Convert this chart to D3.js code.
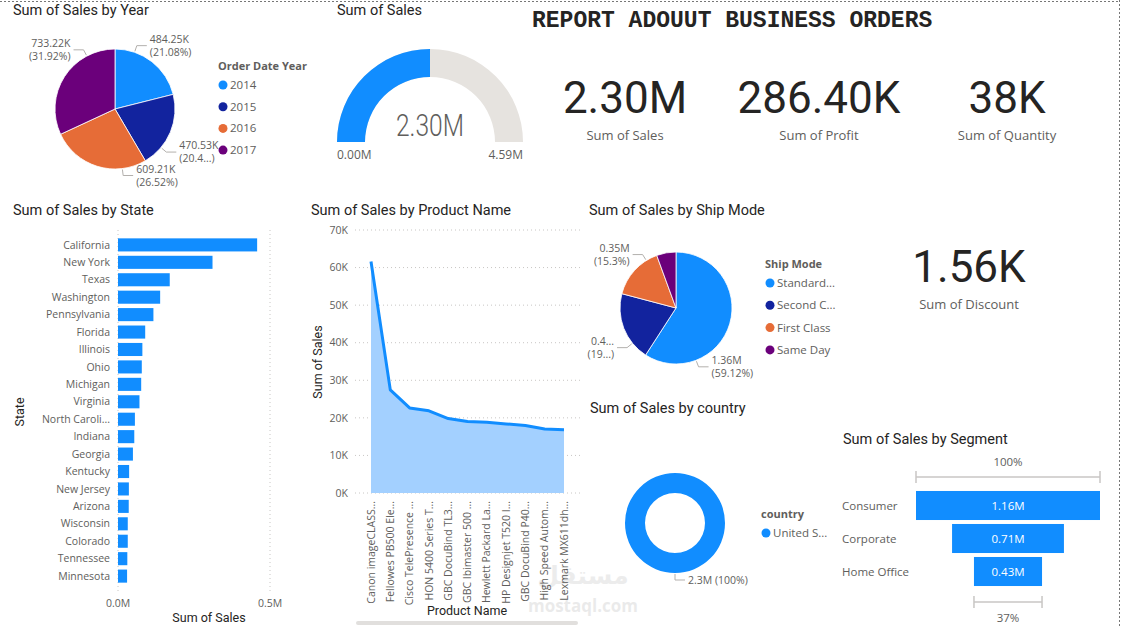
<!DOCTYPE html>
<html lang="en">
<head>
<meta charset="UTF-8">
<title>Report About Business Orders</title>
<script src="https://cdn.jsdelivr.net/npm/d3@7"></script>
<style>
  body { margin: 0; background: #fff; }
  svg { display: block; font-family: 'Open Sans', sans-serif; }
  .title { font-family: Roboto, sans-serif; font-size: 14.5px; fill: #252423; }
  .lbl { font-size: 10.5px; fill: #605E5C; }
  .axisTitle { font-family: Roboto, sans-serif; font-size: 12.5px; fill: #252423; }
  .legHead { font-size: 11px; font-weight: bold; fill: #605E5C; }
  .legItem { font-size: 11.5px; fill: #605E5C; }
  .leader { fill: none; stroke: #B3B0AD; stroke-width: 1; }
  .grid { stroke: #C8C6C4; stroke-dasharray: 1 3; }
  .border { stroke: #777; stroke-dasharray: 2 2; stroke-width: 1; }
  .kpi { font-family: Roboto, sans-serif; font-size: 44px; fill: #252423; }
  .kpiLbl { font-size: 13px; fill: #605E5C; }
</style>
</head>
<body>
<svg id="dash" width="1122" height="628"></svg>
<script>
// ---- data ----
const years = ["2014", "2015", "2016", "2017"];
const yearSales = [484247.50, 470532.51, 609205.60, 733215.26];

const totalSales = 2297200.86;
const totalProfit = 286397.02;
const totalQuantity = 37873;
const totalDiscount = 1561.09;
const gaugeMax = 4594401.72;

const states = ["California", "New York", "Texas", "Washington", "Pennsylvania", "Florida",
  "Illinois", "Ohio", "Michigan", "Virginia", "North Carolina", "Indiana", "Georgia",
  "Kentucky", "New Jersey", "Arizona", "Wisconsin", "Colorado", "Tennessee", "Minnesota"];
const stateSales = [457687.63, 310876.27, 170188.05, 138641.27, 116511.91, 89473.71,
  80166.10, 78258.14, 76269.61, 70636.72, 55603.16, 53555.36, 49095.84,
  36591.75, 35764.31, 35282.00, 32114.61, 32108.12, 30661.87, 29863.15];
const stateTicks = [0, 500000];

const products = ["Canon imageCLASS 2200 Advanced Copier",
  "Fellowes PB500 Electric Punch Plastic Comb Binding Machine with Manual Bind",
  "Cisco TelePresence System EX90 Videoconferencing Unit",
  "HON 5400 Series Task Chairs for Big and Tall",
  "GBC DocuBind TL300 Electric Binding System",
  "GBC Ibimaster 500 Manual ProClick Binding System",
  "Hewlett Packard LaserJet 3310 Copier",
  "HP Designjet T520 Inkjet Large Format Printer - 24\" Color",
  "GBC DocuBind P400 Electric Binding System",
  "High Speed Automatic Electric Letter Opener",
  "Lexmark MX611dhe Monochrome Laser Printer"];
const productSales = [61599.82, 27453.38, 22638.48, 21870.58, 19823.48, 19024.50,
  18839.69, 18374.90, 17965.07, 17030.31, 16829.90];
const productTicks = [0, 10000, 20000, 30000, 40000, 50000, 60000, 70000];

const shipModes = ["Standard Class", "Second Class", "First Class", "Same Day"];
const shipSales = [1358215.74, 459193.57, 351428.42, 128363.12];

const countries = ["United States"];
const countrySales = [2297200.86];

const segments = ["Consumer", "Corporate", "Home Office"];
const segmentSales = [1161401.34, 706146.37, 429653.15];

const palette = ["#118DFF", "#12239E", "#E66C37", "#6B007B"];

// ---- helpers ----
const svg = d3.select("#dash");
const fmtM = v => (v / 1e6).toFixed(2) + "M";
const fmtK = v => (v / 1e3).toFixed(2) + "K";
const pctOf = (v, arr) => d3.format(".2~f")(v / d3.sum(arr) * 100) + "%";
const cut = (s, n) => n ? s.slice(0, n) + "..." : s;

function title(x, y, t) {
  svg.append("text").attr("class", "title").attr("x", x).attr("y", y).attr("dy", "0.35em").text(t);
}

function fitText(sel, full, maxW) {
  sel.text(full);
  let s = full;
  while (sel.node().getComputedTextLength() > maxW && s.length > 1) {
    s = s.slice(0, -1);
    sel.text(s + "...");
  }
}

function legend(x, y, head, names, step, maxW) {
  const g = svg.append("g").attr("transform", `translate(${x},${y})`);
  g.append("text").attr("class", "legHead").attr("dy", "0.35em").text(head);
  names.forEach((n, i) => {
    const yy = 19 + i * step;
    g.append("circle").attr("cx", 5).attr("cy", yy).attr("r", 4.5).attr("fill", palette[i]);
    fitText(g.append("text").attr("class", "legItem").attr("x", 12).attr("y", yy).attr("dy", "0.35em"), n, maxW);
  });
}

// leader-line labels round a pie: angle in degrees from 12 o'clock
function callouts(g, r, specs) {
  specs.forEach(s => {
    const a = s.angle * Math.PI / 180;
    const dir = Math.sin(a) >= -1e-9 ? 1 : -1;
    const pt = k => [Math.sin(a) * k, -Math.cos(a) * k];
    const p0 = pt(r + 1), p1 = pt(r + 7), p2 = [p1[0] + dir * 10, p1[1]];
    g.append("polyline").attr("class", "leader").attr("points", [p0, p1, p2].join(" "));
    const t = g.append("text").attr("class", "lbl").attr("text-anchor", dir > 0 ? "start" : "end");
    const x = p2[0] + dir * 3, y0 = p2[1] - (s.lines.length - 1) * 6.5;
    s.lines.forEach((l, j) => t.append("tspan").attr("x", x).attr("y", y0 + j * 13).attr("dy", "0.35em").text(l));
  });
}

const pie = d3.pie().sort(null).value(d => d);

// ---- frame + header ----
svg.append("line").attr("class", "border").attr("x1", 0).attr("x2", 1119).attr("y1", 1.5).attr("y2", 1.5);
svg.append("line").attr("class", "border").attr("x1", 1119.5).attr("x2", 1119.5).attr("y1", 0).attr("y2", 628);

svg.append("text").attr("x", 532).attr("y", 27)
  .style("font-family", "'Courier New', 'Liberation Mono', monospace").style("font-weight", "bold")
  .style("font-size", "23px").attr("fill", "#252423")
  .text("REPORT ADOUUT BUSINESS ORDERS");

// ---- Sum of Sales by Year (pie) ----
title(13, 10, "Sum of Sales by Year");
const gYear = svg.append("g").attr("transform", "translate(115,109)");
const yearArcs = pie(yearSales);
gYear.selectAll("path").data(yearArcs).join("path")
  .attr("d", d3.arc().innerRadius(0).outerRadius(60))
  .attr("fill", (d, i) => palette[i]).attr("stroke", "#fff").attr("stroke-width", 0.8);
const yearLabelAngle = [19, 130, 173, 332];
const yearPctCut = [0, 4, 0, 0];
callouts(gYear, 60, yearSales.map((v, i) => ({
  angle: yearLabelAngle[i],
  lines: [fmtK(v), "(" + cut(pctOf(v, yearSales), yearPctCut[i]) + ")"]
})));
legend(218, 66, "Order Date Year", years, 21.7, 80);

// ---- gauge ----
title(337, 10, "Sum of Sales");
const gGauge = svg.append("g").attr("transform", "translate(430,142)");
const gArc = d3.arc().innerRadius(65).outerRadius(93);
const gScale = d3.scaleLinear().domain([0, gaugeMax]).range([-Math.PI / 2, Math.PI / 2]);
gGauge.append("path").attr("d", gArc({ startAngle: gScale(0), endAngle: gScale(gaugeMax) })).attr("fill", "#E6E3DF");
gGauge.append("path").attr("d", gArc({ startAngle: gScale(0), endAngle: gScale(totalSales) })).attr("fill", palette[0]);
gGauge.append("text").attr("text-anchor", "middle").attr("y", -6)
  .style("font-family", "Roboto, sans-serif").style("font-size", "31px").style("font-weight", 300)
  .attr("textLength", 68).attr("lengthAdjust", "spacingAndGlyphs")
  .attr("fill", "#605E5C").text(fmtM(totalSales));
gGauge.append("text").attr("class", "lbl").style("font-size", "12px").attr("x", -93).attr("y", 13).attr("dy", "0.35em").text(fmtM(0));
gGauge.append("text").attr("class", "lbl").style("font-size", "12px").attr("x", 93).attr("y", 13).attr("dy", "0.35em")
  .attr("text-anchor", "end").text(fmtM(gaugeMax));

// ---- KPI cards ----
function card(cx, base, value, label) {
  svg.append("text").attr("class", "kpi").attr("x", cx).attr("y", base).attr("text-anchor", "middle").text(value);
  svg.append("text").attr("class", "kpiLbl").attr("x", cx).attr("y", base + 22).attr("dy", "0.35em")
    .attr("text-anchor", "middle").text(label);
}
card(625, 113, fmtM(totalSales), "Sum of Sales");
card(819, 113, fmtK(totalProfit), "Sum of Profit");
card(1007, 113, Math.round(totalQuantity / 1e3) + "K", "Sum of Quantity");
card(969, 282, fmtK(totalDiscount), "Sum of Discount");

// ---- Sum of Sales by State (bar) ----
title(13, 210, "Sum of Sales by State");
const xs = d3.scaleLinear().domain([0, 500000]).range([118, 270]);
const ys = d3.scaleBand().domain(states).range([234, 587]).padding(0.25);
svg.append("g").selectAll("line").data(stateTicks).join("line").attr("class", "grid")
  .attr("x1", d => xs(d)).attr("x2", d => xs(d)).attr("y1", 230).attr("y2", 592);
svg.append("g").selectAll("rect").data(stateSales).join("rect")
  .attr("x", xs(0)).attr("y", (d, i) => ys(states[i]))
  .attr("width", d => xs(d) - xs(0)).attr("height", ys.bandwidth()).attr("fill", palette[0]);
svg.append("g").selectAll("text").data(states).join("text").attr("class", "lbl")
  .attr("x", 110).attr("y", d => ys(d) + ys.bandwidth() / 2).attr("dy", "0.35em").attr("text-anchor", "end")
  .each(function (d) { fitText(d3.select(this), d, 70); });
svg.append("g").selectAll("text").data(stateTicks).join("text").attr("class", "lbl")
  .attr("x", d => xs(d)).attr("y", 603).attr("dy", "0.35em").attr("text-anchor", "middle")
  .text(d => (d / 1e6).toFixed(1) + "M");
svg.append("text").attr("class", "axisTitle").attr("x", 209).attr("y", 618).attr("dy", "0.35em")
  .attr("text-anchor", "middle").text("Sum of Sales");
svg.append("text").attr("class", "axisTitle").attr("transform", "translate(20,412) rotate(-90)")
  .attr("dy", "0.35em").attr("text-anchor", "middle").text("State");

// ---- Sum of Sales by Product Name (area) ----
title(311, 210, "Sum of Sales by Product Name");
const xp = d3.scalePoint().domain(products).range([371, 564]);
const yp = d3.scaleLinear().domain([0, 70000]).range([493, 230]);
svg.append("g").selectAll("line").data(productTicks).join("line").attr("class", "grid")
  .attr("x1", 355).attr("x2", 580).attr("y1", d => yp(d)).attr("y2", d => yp(d));
svg.append("g").selectAll("text").data(productTicks).join("text").attr("class", "lbl")
  .attr("x", 348).attr("y", d => yp(d)).attr("dy", "0.35em").attr("text-anchor", "end")
  .text(d => d / 1000 + "K");
const pts = products.map((p, i) => [xp(p), yp(productSales[i])]);
svg.append("path").attr("d", d3.area().x(d => d[0]).y0(yp(0)).y1(d => d[1])(pts)).attr("fill", "#A3D0FF");
svg.append("path").attr("d", d3.line()(pts)).attr("fill", "none").attr("stroke", palette[0])
  .attr("stroke-width", 3).attr("stroke-linejoin", "round");
svg.append("g").selectAll("text").data(products).join("text").attr("class", "lbl")
  .attr("transform", d => `translate(${xp(d)},501) rotate(-90)`).attr("dy", "0.35em").attr("text-anchor", "end")
  .each(function (d) { fitText(d3.select(this), d, 105); });
svg.append("text").attr("class", "axisTitle").attr("transform", "translate(318,362) rotate(-90)")
  .attr("dy", "0.35em").attr("text-anchor", "middle").text("Sum of Sales");
svg.append("text").attr("class", "axisTitle").attr("x", 467).attr("y", 611).attr("dy", "0.35em")
  .attr("text-anchor", "middle").text("Product Name");
svg.append("rect").attr("x", 356).attr("y", 621).attr("width", 222).attr("height", 4).attr("rx", 2).attr("fill", "#E1DFDD");

// ---- Sum of Sales by Ship Mode (pie) ----
title(589, 210, "Sum of Sales by Ship Mode");
const gShip = svg.append("g").attr("transform", "translate(676,308)");
gShip.selectAll("path").data(pie(shipSales)).join("path")
  .attr("d", d3.arc().innerRadius(0).outerRadius(56))
  .attr("fill", (d, i) => palette[i]).attr("stroke", "#fff").attr("stroke-width", 0.8);
const shipLabelAngle = [159, 231, 328, null];
const shipCut = [[0, 0], [3, 2], [0, 0]];
callouts(gShip, 56, shipSales.slice(0, 3).map((v, i) => ({
  angle: shipLabelAngle[i],
  lines: [cut(fmtM(v), shipCut[i][0]), "(" + cut(pctOf(v, shipSales), shipCut[i][1]) + ")"]
})));
legend(765, 264, "Ship Mode", shipModes, 22.3, 60);

// ---- Sum of Sales by country (donut) ----
title(590, 408, "Sum of Sales by country");
const gCountry = svg.append("g").attr("transform", "translate(675,523)");
gCountry.selectAll("path").data(pie(countrySales)).join("path")
  .attr("d", d3.arc().innerRadius(30).outerRadius(50)).attr("fill", palette[0]);
callouts(gCountry, 50, countrySales.map(v => ({
  angle: 180, lines: [d3.format(".1f")(v / 1e6) + "M (" + d3.format(".0f")(v / d3.sum(countrySales) * 100) + "%)"]
})));
legend(761, 514, "country", countries, 22, 56);

// ---- Sum of Sales by Segment (funnel) ----
title(843, 439, "Sum of Sales by Segment");
const fx = d3.scaleLinear().domain([0, d3.max(segmentSales)]).range([0, 184]);
const fy = d3.scaleBand().domain(segments).range([489, 588]).paddingInner(0.12).paddingOuter(0.06);
const fcx = 1008;
svg.append("g").selectAll("rect").data(segmentSales).join("rect")
  .attr("x", d => fcx - fx(d) / 2).attr("y", (d, i) => fy(segments[i]))
  .attr("width", d => fx(d)).attr("height", fy.bandwidth()).attr("fill", palette[0]);
svg.append("g").selectAll("text").data(segmentSales).join("text")
  .attr("x", fcx).attr("y", (d, i) => fy(segments[i]) + fy.bandwidth() / 2).attr("dy", "0.35em")
  .attr("text-anchor", "middle").attr("fill", "#fff").style("font-size", "11.5px").text(d => fmtM(d));
svg.append("g").selectAll("text").data(segments).join("text").attr("class", "lbl").style("font-size", "11.5px")
  .attr("x", 842).attr("y", d => fy(d) + fy.bandwidth() / 2).attr("dy", "0.35em").text(d => d);
function bracket(v, y, ly, txt) {
  const x0 = fcx - fx(v) / 2, x1 = fcx + fx(v) / 2;
  const g = svg.append("g").attr("stroke", "#C8C6C4").attr("stroke-width", 1.5);
  g.append("line").attr("x1", x0).attr("x2", x1).attr("y1", y).attr("y2", y);
  g.append("line").attr("x1", x0).attr("x2", x0).attr("y1", y - 6).attr("y2", y + 6);
  g.append("line").attr("x1", x1).attr("x2", x1).attr("y1", y - 6).attr("y2", y + 6);
  svg.append("text").attr("class", "lbl").style("font-size", "11.5px").attr("x", fcx).attr("y", ly)
    .attr("dy", "0.35em").attr("text-anchor", "middle").text(txt);
}
const first = segmentSales[0], last = segmentSales[segmentSales.length - 1];
bracket(first, 477, 462, "100%");
bracket(last, 602, 618, Math.round(last / first * 100) + "%");

// ---- watermark ----
svg.append("text").attr("x", 583).attr("y", 584).attr("text-anchor", "middle")
  .style("font-family", "'DejaVu Sans', sans-serif").style("font-size", "25px").style("font-weight", "bold")
  .attr("fill", "#000").attr("opacity", 0.07).text("مستقل");
svg.append("text").attr("x", 583).attr("y", 612).attr("text-anchor", "middle")
  .style("font-family", "'Open Sans', sans-serif").style("font-size", "17px").style("font-weight", "bold")
  .attr("fill", "#000").attr("opacity", 0.08).text("mostaql.com");
</script>
</body>
</html>
